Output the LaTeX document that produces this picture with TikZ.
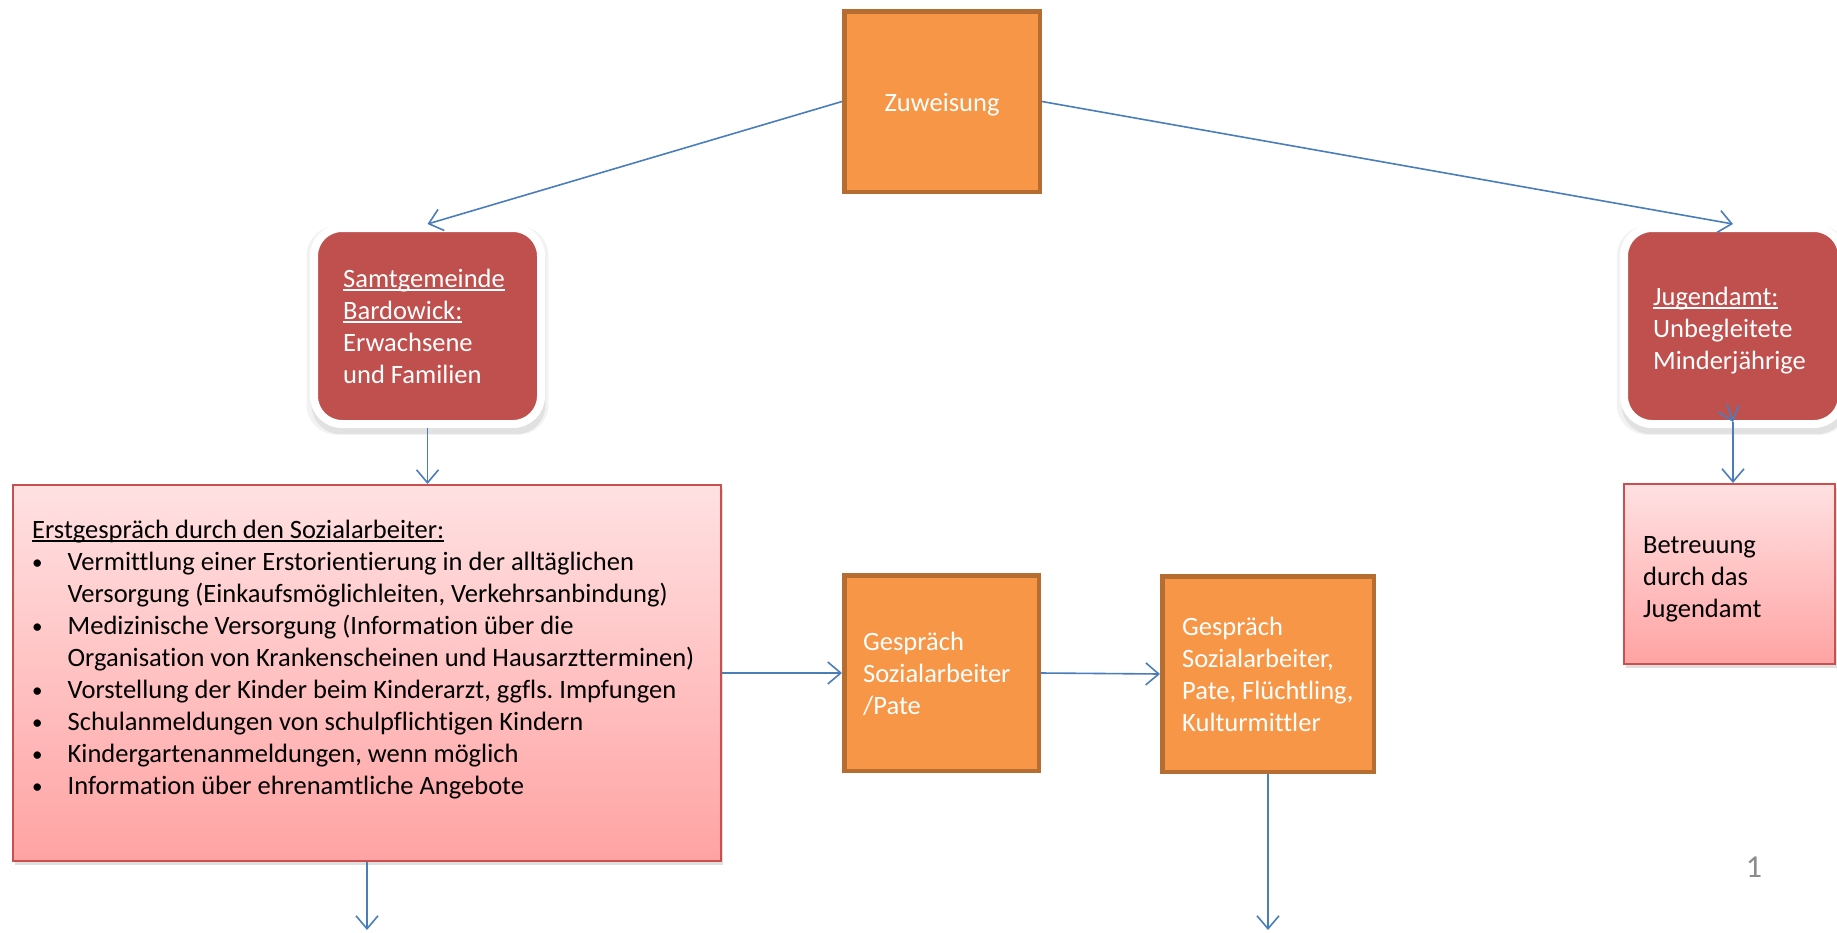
\documentclass[tikz,border=0pt]{standalone}
\usepackage{fontspec}
\setmainfont[Ligatures={NoCommon}]{Carlito}
\usetikzlibrary{arrows.meta,shadows}
\definecolor{zorange}{HTML}{F79646}
\definecolor{zorangeline}{HTML}{B66D31}
\definecolor{zred}{HTML}{C0504D}
\definecolor{pinktop}{HTML}{FFE1E2}
\definecolor{pinkbot}{HTML}{FFA3A3}
\definecolor{pinkline}{HTML}{C9504F}
\definecolor{connblue}{HTML}{4A7EBB}
\definecolor{pagegray}{HTML}{8C8C8C}
\newcommand\myul[1]{\setbox0=\hbox{#1}\rlap{\rule[-3.5pt]{\wd0}{1.3pt}}\box0}
\newcommand\fs{\fontsize{26.5}{32}\selectfont}
\newcommand\tstrut{\rule{0pt}{20pt}}
\newcommand\bl{\makebox[35.5pt][l]{\raisebox{1pt}{\fontsize{21}{21}\selectfont •}}}
\newcommand\ind{\hspace*{35.5pt}}
\frenchspacing
\begin{document}
\begin{tikzpicture}[x=1pt,y=-1pt,
  orangebox/.style={draw=zorangeline, line width=4.5pt, fill=zorange, rectangle, inner sep=0},
  redbox/.style={draw=white, line width=8pt, fill=zred, rounded corners=28pt, inner sep=0,
     drop shadow={shadow xshift=0pt,shadow yshift=-4pt,shadow scale=1.065,opacity=0.10},
     drop shadow={shadow xshift=1pt,shadow yshift=-7pt,shadow scale=1.03,opacity=0.14}},
  pinkbox/.style={draw=pinkline, line width=2pt, top color=pinktop, bottom color=pinkbot, inner sep=0,
     drop shadow={shadow xshift=2pt,shadow yshift=-4pt,opacity=0.25}},
  txt/.style={inner sep=0, anchor=north west, align=left, font=\fs},
  arrowline/.style={draw=connblue, line width=1.6pt, -{Straight Barb[length=13pt,width=22pt]}}
]
\useasboundingbox (0,0) rectangle (1837,932);
\fill[white] (0,0) rectangle (1837,932);

% boxes
\node[orangebox, minimum width=195.5pt, minimum height=180.5pt] (z) at (942,101.5) {};
\node[redbox, minimum width=227pt, minimum height=196pt] (samt) at (427.5,326) {};
\node[redbox, minimum width=218pt, minimum height=196pt] (jug) at (1733,326) {};
\node[pinkbox, minimum width=211pt, minimum height=180pt] (betr) at (1729.5,574) {};
\node[pinkbox, minimum width=708pt, minimum height=376pt] (erst) at (367,673) {};
\node[orangebox, minimum width=194.5pt, minimum height=195.5pt] (b1) at (941.5,673) {};
\node[orangebox, minimum width=211.5pt, minimum height=195.5pt] (b2) at (1268,674) {};

% texts
\node[inner sep=0, anchor=base, font=\fs, text=white] (zt) at (942,111) {Zuweisung};
\node[txt, text=white] (samtt) at (343,267) {\tstrut\myul{Samtgemeinde}\\\myul{Bardowick:}\\Erwachsene\\und Familien};
\node[txt, text=white] (jugt) at (1653,285) {\tstrut\myul{Jugendamt:}\\Unbegleitete\\Minderjährige};
\node[txt, text=black] (betrt) at (1643,533) {\tstrut Betreuung\\durch das\\Jugendamt};
\node[txt, text=black] (erstt) at (32,518) {\tstrut\myul{Erstgespräch durch den Sozialarbeiter:}\\
\bl Vermittlung einer Erstorientierung in der alltäglichen\\
\ind Versorgung (Einkaufsmöglichleiten, Verkehrsanbindung)\\
\bl Medizinische Versorgung (Information über die\\
\ind Organisation von Krankenscheinen und Hausarztterminen)\\
\bl Vorstellung der Kinder beim Kinderarzt, ggfls. Impfungen\\
\bl Schulanmeldungen von schulpflichtigen Kindern\\
\bl Kindergartenanmeldungen, wenn möglich\\
\bl Information über ehrenamtliche Angebote};
\node[txt, text=white] (b1t) at (863,630) {\tstrut Gespräch\\Sozialarbeiter\\/Pate};
\node[txt, text=white] (b2t) at (1182,615) {\tstrut Gespräch\\Sozialarbeiter,\\Pate, Flüchtling,\\Kulturmittler};
\node[inner sep=0, font=\fontsize{32}{38}\selectfont, text=pagegray] (pg) at (1754,867) {1};

% connectors
\coordinate (j1) at (1727,404);
\coordinate (j2) at (1733,422);
\coordinate (e1) at (367,930);
\coordinate (e2) at (1268,930);
\draw[arrowline] (z.west) -- (samt.north);
\draw[arrowline] (z.east) -- (jug.north);
\draw[arrowline] (samt.south) -- (samt.south |- erst.north);
\draw[arrowline] (erst.east) -- (b1.west);
\draw[arrowline] (b1.east) -- (b2.west);
\draw[arrowline] (j1) -- (j2);
\draw[arrowline] (j2) -- (j2 |- betr.north);
\draw[arrowline] (erst.south) -- (e1);
\draw[arrowline] (b2.south) -- (e2);
\end{tikzpicture}
\end{document}
